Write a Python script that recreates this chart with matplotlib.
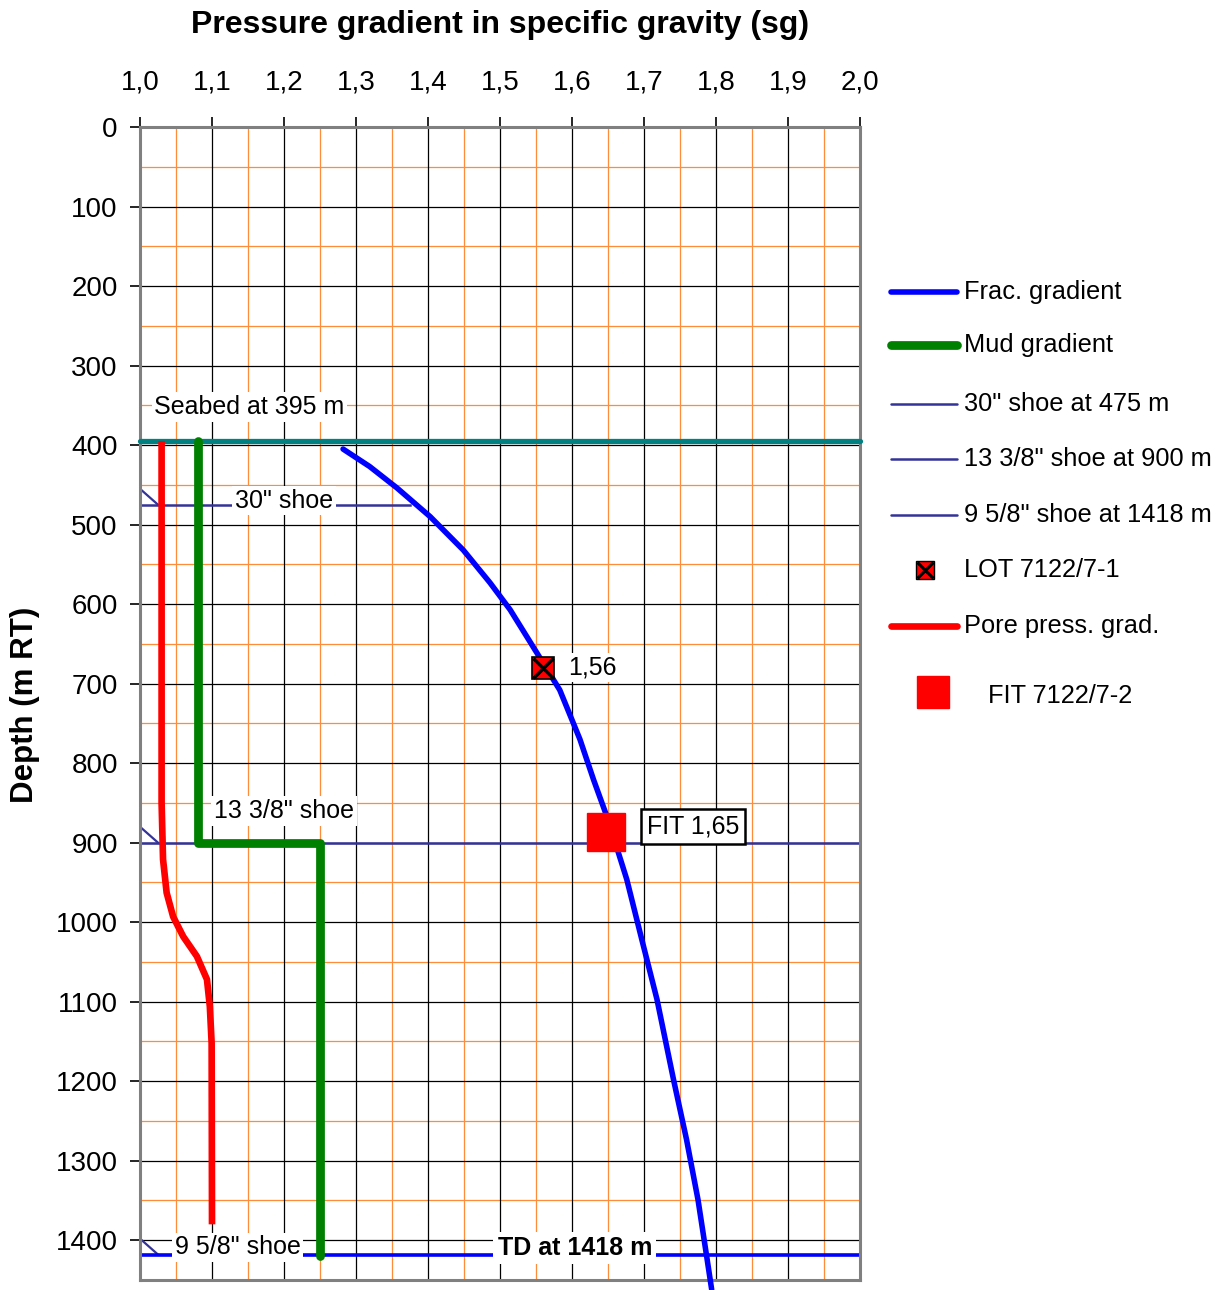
import matplotlib.pyplot as plt
from matplotlib.lines import Line2D

plt.rcParams['font.family'] = ['Liberation Sans', 'DejaVu Sans']

# frac gradient (sg vs depth m)
frac_depth = [405, 427, 454, 490, 532, 573, 607, 661, 708, 770, 821, 871,
              946, 1022, 1097, 1198, 1273, 1349, 1420, 1462]
frac_sg = [1.282, 1.319, 1.357, 1.403, 1.449, 1.486, 1.514, 1.551, 1.583,
           1.611, 1.630, 1.650, 1.676, 1.697, 1.718, 1.741, 1.759, 1.775,
           1.787, 1.794]

# mud gradient
mud_depth = [395, 900, 900, 1420]
mud_sg = [1.08, 1.08, 1.25, 1.25]

# pore pressure gradient
pore_depth = [395, 850, 921, 963, 993, 1018, 1043, 1072, 1106, 1152, 1380]
pore_sg = [1.03, 1.03, 1.032, 1.037, 1.046, 1.060, 1.079, 1.093, 1.097,
           1.0995, 1.1]

seabed_depth = 395
shoe_depths = [475, 900, 1418]
shoe_ends = [1.375, 2.0, 2.0]
shoe_labels = ['30" shoe', '13 3/8" shoe', '9 5/8" shoe']
td_depth = 1418

lot_sg, lot_depth = 1.56, 680
fit_sg, fit_depth = 1.647, 886

x_ticks = [1.0, 1.1, 1.2, 1.3, 1.4, 1.5, 1.6, 1.7, 1.8, 1.9, 2.0]
y_ticks = list(range(0, 1500, 100))

FRAC = '#0000FF'
MUD = '#008000'
PORE = '#FF0000'
SEABED = '#008080'
SHOE = '#333399'
ORANGE = '#FF8C3A'

fig = plt.figure(figsize=(12.31, 12.90), dpi=100)
ax = fig.add_axes([140 / 1231, 10 / 1290, 720 / 1231, 1153 / 1290])

ax.set_xlim(1.0, 2.0)
ax.set_ylim(1450, 0)

# grid
for x in [1.05 + 0.1 * i for i in range(10)]:
    ax.axvline(x, color=ORANGE, lw=0.9, zorder=0)
for y in range(50, 1450, 100):
    ax.axhline(y, color=ORANGE, lw=0.9, zorder=0)
for x in x_ticks[1:-1]:
    ax.axvline(x, color='black', lw=0.9, zorder=0.5)
for y in y_ticks[1:]:
    ax.axhline(y, color='black', lw=0.9, zorder=0.5)

# seabed
ax.plot([1.0, 2.0], [seabed_depth, seabed_depth], color=SEABED, lw=3.8,
        solid_capstyle='round', zorder=3, clip_on=False)

# shoes
for d, xe in zip(shoe_depths[:2], shoe_ends[:2]):
    ax.plot([1.0, xe], [d, d], color=SHOE, lw=1.8, zorder=2)
for d in shoe_depths:
    ax.plot([1.0, 1.025], [d - 20, d], color=SHOE, lw=1.6, zorder=2)
ax.plot([1.0, 2.0], [td_depth, td_depth], color=FRAC, lw=2.6, zorder=2)

# curves
ax.plot(pore_sg, pore_depth, color=PORE, lw=4.8, zorder=4,
        solid_capstyle='butt', solid_joinstyle='round')
ax.plot(mud_sg, mud_depth, color=MUD, lw=6.3, zorder=4,
        solid_capstyle='round', solid_joinstyle='round')
ax.plot(frac_sg, frac_depth, color=FRAC, lw=4.0, zorder=5,
        solid_capstyle='round', solid_joinstyle='round', clip_on=False)

# tests
ax.plot(lot_sg, lot_depth, marker='s', ms=16, mfc=PORE, mec='black',
        mew=1.2, zorder=6)
ax.plot(lot_sg, lot_depth, marker='x', ms=14, mec='black', mew=2.5,
        zorder=7)
ax.plot(fit_sg, fit_depth, marker='s', ms=27, mfc=PORE, mec=PORE, zorder=6)

# annotations
wbox = dict(facecolor='white', edgecolor='none', pad=2)
ax.text(1.02, 352, 'Seabed at 395 m', fontsize=18, va='center', ha='left',
        bbox=wbox, zorder=8)
ax.text(1.2, 470, shoe_labels[0], fontsize=18, va='center', ha='center',
        bbox=wbox, zorder=8)
ax.text(1.103, 860, shoe_labels[1], fontsize=18, va='center', ha='left',
        bbox=wbox, zorder=8)
ax.text(1.048, 1409, shoe_labels[2], fontsize=18, va='center', ha='left',
        bbox=wbox, zorder=8)
ax.text(1.604, 1410, 'TD at 1418 m', fontsize=18, fontweight='bold',
        va='center', ha='center', bbox=dict(facecolor='white',
                                             edgecolor='none', pad=3),
        zorder=8)
ax.text(1.595, 680, '1,56', fontsize=18, va='center', ha='left',
        bbox=wbox, zorder=8)
ax.text(1.768, 880, 'FIT 1,65', fontsize=18, va='center', ha='center',
        bbox=dict(facecolor='white', edgecolor='black', lw=1.8, pad=4),
        zorder=8)

# axes styling
ax.xaxis.tick_top()
ax.set_xticks(x_ticks)
ax.set_xticklabels([f'{v:.1f}'.replace('.', ',') for v in x_ticks])
ax.set_yticks(y_ticks)
ax.tick_params(axis='both', labelsize=20, length=7, width=1.2, color='black',
               pad=9)
ax.tick_params(axis='x', pad=16)
for side in ['left', 'right', 'top', 'bottom']:
    ax.spines[side].set_color('#808080')
    ax.spines[side].set_linewidth(2.2)
ax.set_zorder(1)

fig.text(500 / 1231, 1 - 25 / 1290, 'Pressure gradient in specific gravity (sg)',
         fontsize=23, fontweight='bold', ha='center', va='center')
fig.text(25 / 1231, 1 - 705 / 1290, 'Depth (m RT)', fontsize=22.5,
         fontweight='bold', rotation=90, ha='center', va='center')

# legend, drawn by hand at the right
leg_items = [
    ('line', FRAC, 4.0, 'Frac. gradient', 292),
    ('line', MUD, 6.3, 'Mud gradient', 345),
    ('line', SHOE, 1.8, '30" shoe at 475 m', 404),
    ('line', SHOE, 1.8, '13 3/8" shoe at 900 m', 459),
    ('line', SHOE, 1.8, '9 5/8" shoe at 1418 m', 515),
    ('lot', None, None, 'LOT 7122/7-1', 570),
    ('line', PORE, 4.8, 'Pore press. grad.', 626),
]
for kind, col, lw, label, ypx in leg_items:
    yf = 1 - ypx / 1290
    if kind == 'line':
        fig.add_artist(Line2D([891 / 1231, 957 / 1231], [yf, yf], color=col,
                              lw=lw, solid_capstyle='round'))
    else:
        fig.add_artist(Line2D([925 / 1231], [yf], marker='s', ms=13,
                              mfc=PORE, mec='black', mew=1.0))
        fig.add_artist(Line2D([925 / 1231], [yf], marker='x', ms=12,
                              mec='black', mew=2.3))
    fig.text(964 / 1231, yf, label, fontsize=18.3, ha='left', va='center')
yf = 1 - 692 / 1290
fig.add_artist(Line2D([933 / 1231], [yf], marker='s', ms=23, mfc=PORE,
                      mec=PORE))
fig.text(988 / 1231, yf - 0.003, 'FIT 7122/7-2', fontsize=18.3, ha='left',
         va='center')

fig.savefig('out.png', dpi=100)
